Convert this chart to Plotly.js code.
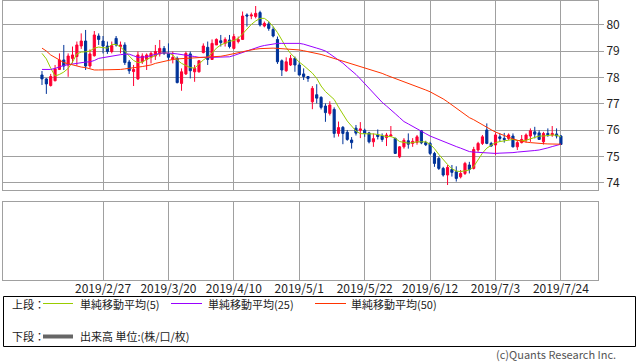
<!DOCTYPE html>
<html>
<head>
<meta charset="utf-8">
<script src="https://cdn.plot.ly/plotly-3.0.1.min.js"></script>
<style>html,body{margin:0;padding:0;background:#fff;}#chart{width:638px;height:362px;}</style>
</head>
<body>
<div id="chart"></div>
<script>
const dates = [
"2019-02-07","2019-02-08","2019-02-11","2019-02-12","2019-02-13","2019-02-14","2019-02-15","2019-02-18","2019-02-19","2019-02-20",
"2019-02-21","2019-02-22","2019-02-25","2019-02-26","2019-02-27","2019-02-28","2019-03-01","2019-03-04","2019-03-05","2019-03-06",
"2019-03-07","2019-03-08","2019-03-11","2019-03-12","2019-03-13","2019-03-14","2019-03-15","2019-03-18","2019-03-19","2019-03-20",
"2019-03-21","2019-03-22","2019-03-25","2019-03-26","2019-03-27","2019-03-28","2019-03-29","2019-04-01","2019-04-02","2019-04-03",
"2019-04-04","2019-04-05","2019-04-08","2019-04-09","2019-04-10","2019-04-11","2019-04-12","2019-04-15","2019-04-16","2019-04-17",
"2019-04-18","2019-04-19","2019-04-22","2019-04-23","2019-04-24","2019-04-25","2019-04-26","2019-04-29","2019-04-30","2019-05-01",
"2019-05-02","2019-05-03","2019-05-06","2019-05-07","2019-05-08","2019-05-09","2019-05-10","2019-05-13","2019-05-14","2019-05-15",
"2019-05-16","2019-05-17","2019-05-20","2019-05-21","2019-05-22","2019-05-23","2019-05-24","2019-05-27","2019-05-28","2019-05-29",
"2019-05-30","2019-05-31","2019-06-03","2019-06-04","2019-06-05","2019-06-06","2019-06-07","2019-06-10","2019-06-11","2019-06-12",
"2019-06-13","2019-06-14","2019-06-17","2019-06-18","2019-06-19","2019-06-20","2019-06-21","2019-06-24","2019-06-25","2019-06-26",
"2019-06-27","2019-06-28","2019-07-01","2019-07-02","2019-07-03","2019-07-04","2019-07-05","2019-07-08","2019-07-09","2019-07-10",
"2019-07-11","2019-07-12","2019-07-15","2019-07-16","2019-07-17","2019-07-18","2019-07-19","2019-07-22","2019-07-23","2019-07-24"
];

const open = [
78.10,77.95,77.70,77.88,78.31,78.67,78.48,78.73,78.80,79.20,
79.39,78.44,78.83,79.58,79.39,79.20,78.99,79.49,79.18,79.24,
78.59,78.23,77.95,78.60,78.69,78.77,78.82,78.90,79.11,78.92,
78.69,78.73,77.78,78.14,78.90,78.22,78.22,78.95,79.15,78.69,
79.24,79.40,79.30,79.43,79.11,79.37,79.45,80.38,80.34,80.32,
80.47,79.96,80.04,79.83,79.45,78.64,78.26,78.48,78.73,78.48,
78.14,78.04,77.08,77.35,77.25,76.92,76.64,76.79,75.88,76.11,
75.92,75.63,76.08,76.00,76.00,75.90,75.56,75.82,75.78,75.72,
75.78,75.69,74.99,75.37,75.60,75.50,75.54,75.98,75.53,75.50,
75.12,74.93,74.55,74.30,74.51,74.42,74.23,74.36,74.68,74.55,
75.25,75.50,76.01,75.50,75.44,75.75,75.69,75.69,75.78,75.37,
75.53,75.63,75.78,75.94,75.90,75.56,75.88,75.82,75.86,75.78
];
const high = [
78.25,77.98,78.14,78.48,78.92,79.24,78.92,79.18,79.37,79.68,
79.81,79.07,79.77,79.68,79.58,79.37,79.37,79.58,79.37,79.34,
78.67,78.48,78.99,78.92,78.92,78.99,79.24,79.43,79.20,79.30,
78.99,78.80,78.35,78.99,78.99,78.48,78.67,79.30,79.37,79.45,
79.49,79.62,79.53,79.62,79.66,79.56,80.51,80.44,80.47,80.72,
80.54,80.13,80.13,79.94,79.56,78.69,78.77,78.86,78.80,78.60,
78.35,78.06,77.68,77.75,77.29,77.02,77.10,76.87,76.33,76.16,
76.01,75.74,76.20,76.31,76.06,75.94,75.88,76.03,75.88,75.90,
76.16,75.72,75.40,75.70,75.88,75.70,75.82,76.01,75.60,75.56,
75.18,75.00,74.61,74.68,74.68,74.63,74.49,74.80,74.80,75.37,
75.56,75.82,76.26,75.56,75.90,75.88,75.90,75.88,75.88,75.63,
75.82,75.88,76.07,76.13,76.00,75.94,76.07,76.16,76.07,75.82
];
const low = [
77.72,77.38,77.66,77.86,78.29,78.29,78.03,78.54,78.45,79.09,
78.29,78.35,78.80,79.24,78.92,78.90,78.92,79.18,78.92,78.48,
78.14,77.68,77.91,78.52,78.29,78.54,78.67,78.80,78.86,78.67,
78.54,77.78,77.50,78.10,77.97,77.84,78.19,78.92,78.48,78.67,
79.24,79.18,79.18,79.11,79.07,79.30,79.43,79.94,80.22,80.25,
79.94,79.91,79.78,79.53,78.52,78.06,78.22,78.44,78.22,78.08,
77.91,77.84,76.80,77.02,76.79,76.32,76.56,75.72,75.76,75.47,
75.60,75.30,75.80,75.70,75.75,75.50,75.37,75.65,75.56,75.40,
75.74,75.10,74.94,75.30,75.30,75.37,75.45,75.47,75.40,75.06,
74.61,74.49,74.24,73.92,74.24,74.05,74.17,74.30,74.36,74.51,
75.18,75.44,75.47,75.37,75.06,75.56,75.53,75.63,75.35,75.25,
75.50,75.53,75.56,75.69,75.63,75.46,75.75,75.75,75.69,75.44
];
const close = [
77.95,77.76,78.04,78.33,78.67,78.44,78.82,78.86,79.24,79.39,
78.44,78.90,79.62,79.45,79.20,78.99,79.21,79.24,79.24,78.57,
78.26,78.31,78.86,78.82,78.86,78.92,78.99,79.11,78.92,78.77,
78.77,77.81,78.22,78.92,78.26,78.35,78.64,79.20,78.69,79.30,
79.45,79.33,79.45,79.18,79.56,79.45,80.34,80.34,80.38,80.44,
80.00,80.06,79.87,79.58,78.60,78.29,78.60,78.73,78.48,78.10,
78.04,77.97,77.59,77.22,76.87,76.67,76.96,75.88,76.10,75.88,
75.65,75.53,75.89,76.05,75.88,75.56,75.68,75.76,75.65,75.82,
75.82,75.12,75.37,75.62,75.47,75.58,75.75,75.52,75.45,75.12,
74.74,74.55,74.30,74.59,74.40,74.17,74.36,74.74,74.51,75.27,
75.50,75.75,75.50,75.40,75.82,75.69,75.65,75.82,75.37,75.53,
75.65,75.82,75.98,75.85,75.65,75.88,75.83,75.88,75.78,75.46
];

const sma5 = [
78.92,78.71,78.36,78.06,78.12,78.21,78.35,78.59,78.90,78.97,
78.98,79.01,79.12,79.16,79.14,79.12,79.26,79.26,79.16,79.01,
78.82,78.65,78.57,78.59,78.69,78.76,78.84,78.92,78.94,78.93,
78.86,78.67,78.54,78.46,78.38,78.36,78.52,78.67,78.78,78.93,
79.12,79.24,79.31,79.38,79.41,79.49,79.66,79.85,80.02,80.15,
80.25,80.25,80.13,79.94,79.71,79.43,79.14,78.92,78.74,78.59,
78.46,78.33,78.17,77.97,77.68,77.47,77.32,77.17,76.88,76.60,
76.35,76.16,75.97,75.87,75.87,75.87,75.86,75.84,75.81,75.76,
75.76,75.70,75.57,75.53,75.51,75.53,75.56,75.56,75.56,75.47,
75.30,75.08,74.87,74.70,74.54,74.45,74.43,74.45,74.49,74.62,
74.87,75.13,75.32,75.44,75.53,75.57,75.60,75.63,75.65,75.61,
75.60,75.62,75.67,75.74,75.78,75.78,75.80,75.82,75.81,75.75
];
const sma25 = [
78.31,78.31,78.31,78.35,78.42,78.46,78.49,78.52,78.55,78.57,
78.59,78.60,78.65,78.73,78.76,78.80,78.83,78.86,78.87,78.89,
78.89,78.83,78.77,78.78,78.79,78.84,78.89,78.92,78.94,78.94,
78.92,78.90,78.88,78.86,78.83,78.80,78.77,78.76,78.77,78.77,
78.77,78.78,78.79,78.79,78.84,78.90,78.97,79.03,79.09,79.14,
79.18,79.22,79.25,79.28,79.30,79.30,79.30,79.30,79.30,79.30,
79.27,79.21,79.18,79.12,79.07,79.01,78.90,78.79,78.69,78.55,
78.40,78.27,78.12,77.95,77.77,77.60,77.41,77.23,77.06,76.92,
76.79,76.63,76.48,76.33,76.24,76.14,76.05,75.97,75.87,75.78,
75.71,75.64,75.56,75.50,75.44,75.38,75.32,75.25,75.19,75.17,
75.16,75.14,75.13,75.13,75.12,75.13,75.13,75.14,75.15,75.17,
75.18,75.20,75.21,75.23,75.25,75.28,75.33,75.38,75.43,75.47
];
const sma50 = [
79.12,79.01,78.86,78.75,78.67,78.57,78.52,78.48,78.44,78.40,
78.38,78.33,78.29,78.29,78.29,78.29,78.29,78.29,78.31,78.33,
78.35,78.36,78.38,78.42,78.45,78.48,78.54,78.58,78.62,78.66,
78.69,78.71,78.72,78.73,78.73,78.74,78.74,78.75,78.76,78.77,
78.78,78.81,78.84,78.87,78.90,78.94,78.98,79.02,79.06,79.08,
79.10,79.11,79.12,79.12,79.11,79.10,79.08,79.07,79.06,79.05,
79.02,78.99,78.96,78.93,78.88,78.83,78.78,78.73,78.68,78.63,
78.58,78.53,78.48,78.43,78.38,78.33,78.28,78.22,78.16,78.09,
78.03,77.97,77.91,77.86,77.80,77.74,77.68,77.60,77.53,77.46,
77.38,77.29,77.19,77.08,76.96,76.84,76.71,76.60,76.48,76.40,
76.30,76.19,76.10,76.02,75.93,75.86,75.79,75.73,75.67,75.62,
75.58,75.55,75.53,75.51,75.50,75.49,75.48,75.47,75.47,75.47
];
// FX pair: the lower (volume) panel has no volume data
const volume = [];

const tickDates = ["2019-02-27","2019-03-20","2019-04-10","2019-05-01","2019-05-22","2019-06-12","2019-07-03","2019-07-24"];
const tickLabels = ["2019/2/27","2019/3/20","2019/4/10","2019/5/1","2019/5/22","2019/6/12","2019/7/3","2019/7/24"];
const priceTicks = [74,75,76,77,78,79,80];
const legendNames = ["単純移動平均(5)","単純移動平均(25)","単純移動平均(50)"];
const volumeLabel = "出来高 単位:(株/口/枚)";

const W = 638, H = 362;
const px = v => v / W;
const py = v => (H - v) / H;
const idx = dates.map((d, i) => i);
const tickIdx = tickDates.map(d => dates.indexOf(d));
const FONT = '"Noto Sans CJK JP", "Noto Sans", sans-serif';
const GRID = '#a0a0a0';

const traces = [
  {
    type: 'candlestick', x: idx, open: open, high: high, low: low, close: close,
    xaxis: 'x', yaxis: 'y',
    increasing: {line: {color: '#ff0033', width: 1}, fillcolor: '#ff0033'},
    decreasing: {line: {color: '#003399', width: 1}, fillcolor: '#003399'},
    whiskerwidth: 0, hoverinfo: 'skip'
  },
  {type: 'scatter', mode: 'lines', x: idx, y: sma5, xaxis: 'x', yaxis: 'y', line: {color: '#99cc00', width: 1}, hoverinfo: 'skip'},
  {type: 'scatter', mode: 'lines', x: idx, y: sma25, xaxis: 'x', yaxis: 'y', line: {color: '#9900ff', width: 1}, hoverinfo: 'skip'},
  {type: 'scatter', mode: 'lines', x: idx, y: sma50, xaxis: 'x', yaxis: 'y', line: {color: '#ff3300', width: 1}, hoverinfo: 'skip'},
  {type: 'bar', x: idx.slice(0, volume.length), y: volume, xaxis: 'x2', yaxis: 'y2', marker: {color: '#666666'}, hoverinfo: 'skip'}
];

const xr = [-8.94, 127.5];
function xAxis(extra) {
  return Object.assign({
    type: 'linear', range: xr.slice(), autorange: false, domain: [px(3), px(598)],
    tickmode: 'array', tickvals: tickIdx, ticktext: tickLabels,
    showgrid: true, gridcolor: GRID, gridwidth: 1,
    showline: true, mirror: true, linecolor: GRID, linewidth: 1,
    zeroline: false, ticks: '', fixedrange: true
  }, extra);
}

const layout = {
  width: W, height: H,
  margin: {l: 0, r: 0, t: 0, b: 0},
  paper_bgcolor: '#ffffff', plot_bgcolor: '#ffffff',
  showlegend: false,
  font: {family: FONT, size: 12, color: '#222'},
  xaxis: xAxis({anchor: 'y', showticklabels: false, rangeslider: {visible: false}}),
  yaxis: {
    domain: [py(190), py(1)], range: [73.73, 80.91], autorange: false, side: 'right', anchor: 'x',
    tickmode: 'array', tickvals: priceTicks,
    ticks: 'outside', ticklen: 5, tickcolor: GRID,
    showgrid: true, gridcolor: GRID, gridwidth: 1,
    showline: true, mirror: true, linecolor: GRID, zeroline: false,
    tickfont: {family: FONT, size: 12, color: '#222'}, fixedrange: true
  },
  xaxis2: xAxis({anchor: 'y2', showticklabels: true, ticklabelstandoff: -2,
    tickfont: {family: FONT, size: 12, color: '#222'}}),
  yaxis2: {
    domain: [py(280), py(202)], range: [0, 1], autorange: false, side: 'right', anchor: 'x2',
    showgrid: false, showticklabels: false, ticks: '',
    showline: true, mirror: true, linecolor: GRID, zeroline: false, fixedrange: true
  },
  shapes: [
    {type: 'rect', xref: 'paper', yref: 'paper', x0: px(3.5), x1: px(635.5), y0: py(346.5), y1: py(296.5),
     line: {color: '#000', width: 1}},
    {type: 'line', xref: 'paper', yref: 'paper', x0: px(43), x1: px(73), y0: py(303.5), y1: py(303.5), line: {color: '#99cc00', width: 1}},
    {type: 'line', xref: 'paper', yref: 'paper', x0: px(171), x1: px(202), y0: py(303.5), y1: py(303.5), line: {color: '#9900ff', width: 1}},
    {type: 'line', xref: 'paper', yref: 'paper', x0: px(315), x1: px(346), y0: py(303.5), y1: py(303.5), line: {color: '#ff3300', width: 1}},
    {type: 'line', xref: 'paper', yref: 'paper', x0: px(43), x1: px(73), y0: py(336.5), y1: py(336.5), line: {color: '#666666', width: 4}}
  ],
  annotations: [
    {text: '上段：', x: px(10), y: py(304)},
    {text: legendNames[0], x: px(78), y: py(304)},
    {text: legendNames[1], x: px(206), y: py(304)},
    {text: legendNames[2], x: px(349), y: py(304)},
    {text: '下段：', x: px(10), y: py(336)},
    {text: volumeLabel, x: px(78), y: py(336)}
  ].map(a => Object.assign({xref: 'paper', yref: 'paper', xanchor: 'left', yanchor: 'middle', showarrow: false,
    font: {family: FONT, size: 11, color: '#222'}}, a)).concat([
    {text: '(c)Quants Research Inc.', xref: 'paper', yref: 'paper', x: px(618), y: py(354), xanchor: 'right', yanchor: 'middle',
     showarrow: false, font: {family: FONT, size: 11, color: '#555'}}
  ])
};

Plotly.newPlot('chart', traces, layout, {staticPlot: true, displayModeBar: false});
</script>
</body>
</html>
